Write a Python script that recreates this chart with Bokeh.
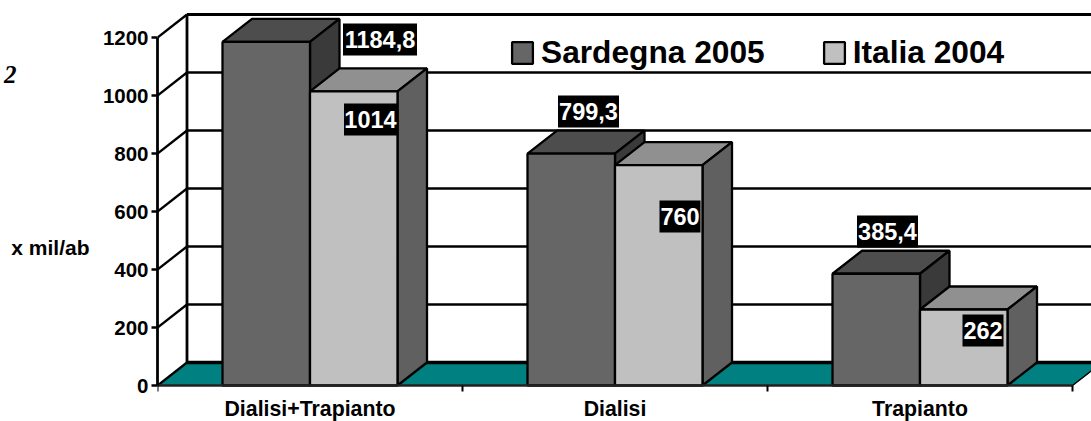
from bokeh.plotting import figure
from bokeh.models import Range1d, LinearAxis, FixedTicker, Legend, LegendItem, ColumnDataSource
from bokeh.embed import file_html
from bokeh.resources import INLINE
from bokeh.core.properties import value

categories = ["Dialisi+Trapianto", "Dialisi", "Trapianto"]
sardegna = [1184.8, 799.3, 385.4]
italia = [1014, 760, 262]
sardegna_labels = ["1184,8", "799,3", "385,4"]
italia_labels = ["1014", "760", "262"]
y_ticks = [0, 200, 400, 600, 800, 1000, 1200]

FONT = "Liberation Sans"
# pixel-to-data factors and the depth of the 3D box
PXX = 1 / 305
PXY = 1 / 0.29
DX = 29.5 * PXX
DY = 23 * PXY
BAR_START = 65 * PXX
BAR_W = 87.5 * PXX

p = figure(width=1091, height=421, output_backend="svg", toolbar_location=None,
           x_range=Range1d(0, 934 * PXX), y_range=Range1d(-36 * PXY, 385 * PXY),
           x_axis_type=None, y_axis_type=None,
           min_border_left=157, min_border_right=0, min_border_top=0, min_border_bottom=0,
           outline_line_color=None, background_fill_color="white")
p.xgrid.visible = False
p.ygrid.visible = False

# floor
p.patch([0, 3, 3 + DX, DX], [0, 0, DY, DY], fill_color="#008080", line_color="#008080", line_width=1)
p.line([DX, 3 + DX], [DY, DY], line_color="black", line_width=3.5)

# back wall grid and side wall
for v in y_ticks:
    if v > 0:
        p.line([DX, 3 + DX], [v + DY, v + DY], line_color="black", line_width=2.3)
    p.line([0, DX], [v, v + DY], line_color="black", line_width=2.3)
p.line([DX, DX], [DY, 1200 + DY], line_color="black", line_width=2.8)
p.line([DX, 3 + DX], [1200 + DY, 1200 + DY], line_color="black", line_width=3)
p.line([3, 3 + DX], [0, DY], line_color="black", line_width=1.5)


def bar(x0, x1, v, front, top, side):
    p.patch([x0, x1, x1 + DX, x0 + DX], [v, v, v + DY, v + DY], fill_color=top, line_color="black", line_width=2.3)
    p.patch([x1, x1 + DX, x1 + DX, x1], [0, DY, v + DY, v], fill_color=side, line_color="black", line_width=2.3)
    return p.quad(left=[x0], right=[x1], bottom=[0], top=[v], fill_color=front, line_color="black", line_width=2.3)


dark = light = None
for i in range(3):
    a = i + BAR_START
    b = a + BAR_W
    c = b + BAR_W
    dark = bar(a, b, sardegna[i], "#666666", "#4d4d4d", "#3a3a3a")
    light = bar(b, c, italia[i], "#c0c0c0", "#909090", "#606060")

# value labels: box centres as pixel offsets from each bar's top-right corner
sard_off = [(70, 2.4), (-26.5, 42.2), (-32.5, 42.2)]
ital_off = [(-27, -28), (-22.5, -51.4), (-24.5, -21)]
sard_w = [74, 61, 61]
ital_w = [53, 41, 41]
xs, ys, ts, ws = [], [], [], []
for i in range(3):
    bx = i + BAR_START + BAR_W
    xs.append(bx + sard_off[i][0] * PXX)
    ys.append(sardegna[i] + sard_off[i][1] * PXY)
    ts.append(sardegna_labels[i])
    ws.append(sard_w[i])
    xs.append(bx + BAR_W + ital_off[i][0] * PXX)
    ys.append(italia[i] + ital_off[i][1] * PXY)
    ts.append(italia_labels[i])
    ws.append(ital_w[i])
src = ColumnDataSource(dict(x=xs, y=ys, t=ts, w=ws))
p.rect("x", "y", width="w", height=32, width_units="screen", height_units="screen", source=src,
       fill_color="black", line_color=None)
p.text("x", "y", text="t", source=src, text_align="center", text_baseline="middle",
       text_color="white", text_font=value(FONT), text_font_style="bold", text_font_size="23.5px")

# value axis
yax = LinearAxis(bounds=(0, 1200), ticker=FixedTicker(ticks=y_ticks))
yax.axis_line_color = "black"
yax.axis_line_width = 2.8
yax.major_tick_line_color = "black"
yax.major_tick_line_width = 2.5
yax.major_tick_out = 6
yax.major_tick_in = 0
yax.minor_tick_line_color = None
yax.major_label_standoff = 3
yax.major_label_text_font = FONT
yax.major_label_text_font_style = "bold"
yax.major_label_text_font_size = "20.5px"
yax.major_label_text_color = "black"
p.add_layout(yax, "left")

# category axis at value 0, inside the extended frame so its labels can sit low enough
p.line([0, 3], [0, 0], line_color="#222222", line_width=2.5)
tick_x = [i for i in range(len(categories) + 1)]
p.segment(tick_x, [0] * len(tick_x), tick_x, [-6 * PXY] * len(tick_x), line_color="black", line_width=2)
p.text([i + 0.5 for i in range(len(categories))], [-23 * PXY] * len(categories), text=categories,
       text_align="center", text_baseline="middle", text_color="black", text_font=value(FONT),
       text_font_style="bold", text_font_size="21.3px")


# the axis title and the stray caption fragment are extra left axes with one labelled tick
def side_text(text, y_px, font, style, size, standoff):
    ax = LinearAxis(ticker=FixedTicker(ticks=[(385 - y_px) * PXY]),
                    major_label_overrides={(385 - y_px) * PXY: text})
    ax.axis_line_color = None
    ax.major_tick_line_color = None
    ax.minor_tick_line_color = None
    ax.major_tick_out = 0
    ax.major_label_standoff = standoff
    ax.major_label_text_font = font
    ax.major_label_text_font_style = style
    ax.major_label_text_font_size = size
    ax.major_label_text_color = "black"
    p.add_layout(ax, "left")


side_text("x mil/ab", 247, FONT, "bold", "21px", 10)
side_text("2", 74, "Liberation Serif", "bold italic", "25px", -8)

legend = Legend(items=[LegendItem(label="Sardegna 2005", renderers=[dark]),
                       LegendItem(label="Italia 2004", renderers=[light])],
                location=(352, 350), orientation="horizontal", background_fill_alpha=0,
                border_line_color=None, glyph_width=26, glyph_height=27, label_standoff=6,
                spacing=56, padding=0, margin=0,
                label_text_font=FONT, label_text_font_style="bold", label_text_font_size="31.7px",
                label_text_color="black")
p.add_layout(legend, "center")

open("out.html", "w").write(file_html(p, INLINE))
